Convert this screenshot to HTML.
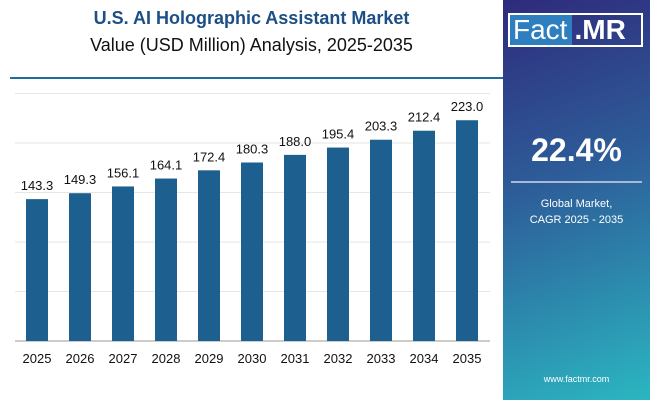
<!DOCTYPE html>
<html><head><meta charset="utf-8"><style>
body{margin:0;width:650px;height:400px;overflow:hidden;background:#fff;font-family:"Liberation Sans",sans-serif;position:relative}
.panel{position:absolute;left:503px;top:0;width:147px;height:400px;background:linear-gradient(160deg,#2f2a7c 0%,#2d5f9a 45%,#2bb6c1 100%)}
</style></head><body>
<div style="position:absolute;left:0;width:503px;top:8px;text-align:center;font-weight:bold;font-size:18px;color:#1c4f86">U.S. AI Holographic Assistant Market</div>
<div style="position:absolute;left:0;width:503px;top:35px;text-align:center;font-size:18px;color:#111">Value (USD Million) Analysis, 2025-2035</div>
<div style="position:absolute;left:10px;top:77px;width:493px;height:2px;background:#1f6a9e"></div>
<div class="panel">
 <div style="position:absolute;left:5px;top:13px;width:135px;height:34px;border:2px solid #fff;box-sizing:border-box;display:flex;font-size:28px;color:#fff;line-height:30px">
  <span style="background:#2e7fc0;padding:0 5px 0 3px">Fact</span><span style="padding-left:2px;font-weight:bold">.MR</span></div>
 <div style="position:absolute;left:0;width:147px;top:132px;text-align:center;font-weight:bold;font-size:32px;color:#fff">22.4%</div>
 <div style="position:absolute;left:8px;top:181px;width:131px;height:2px;background:#a8b8d8"></div>
 <div style="position:absolute;left:0;width:147px;top:196px;text-align:center;font-size:11px;line-height:16px;color:#fff">Global Market,<br>CAGR 2025 - 2035</div>
 <div style="position:absolute;left:0;width:147px;top:374px;text-align:center;font-size:9px;color:#fff">www.factmr.com</div>
</div>
<svg id="c" width="503" height="400" style="position:absolute;left:0;top:0"></svg>
<script>
const years=["2025","2026","2027","2028","2029","2030","2031","2032","2033","2034","2035"];
const values=[143.3,149.3,156.1,164.1,172.4,180.3,188.0,195.4,203.3,212.4,223.0];
const gridTicks=[0,50,100,150,200,250];
const svg=document.getElementById('c');const ns="http://www.w3.org/2000/svg";
const y0=341,k=0.99;const y=v=>y0-v*k;const x=i=>37+i*43;
function mk(t,a){const e=document.createElementNS(ns,t);for(const p in a)e.setAttribute(p,a[p]);svg.appendChild(e);return e;}
gridTicks.forEach(t=>{const l=mk('line',{x1:15,x2:490,y1:y(t),y2:y(t),stroke:t===0?'#999':'#e6e6e6','stroke-width':1});

});
values.forEach((v,i)=>{
const r=mk('rect',{x:x(i)-11,y:y(v),width:22,height:v*k,fill:'#1d5f8f'});


const t=mk('text',{x:x(i),y:y(v)-9,'text-anchor':'middle','font-size':13,fill:'#111'});t.textContent=v.toFixed(1);


const xl=mk('text',{x:x(i),y:363,'text-anchor':'middle','font-size':13,fill:'#111'});xl.textContent=years[i];


});
</script>
</body></html>
